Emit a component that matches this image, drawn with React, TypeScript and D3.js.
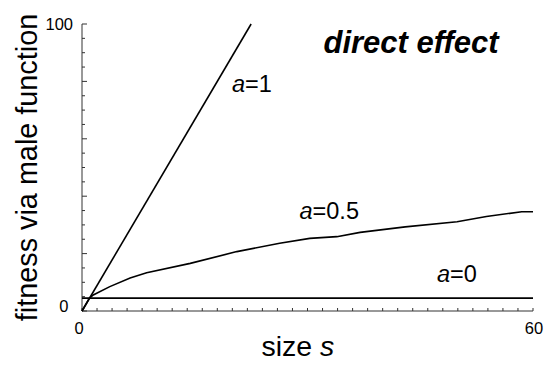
import React from "react";
import * as d3 from "d3";

// ---- data ----
const sizeA1 = [0, 22.5];
const fitA1 = [0, 100];

const sizeA05 = [0, 1, 1.5, 3.7, 6.4, 8.6, 14.4, 20.6, 26.3, 30.3, 33.9, 37, 43, 49.9, 53.8, 58.5, 60];
const fitA05 = [0, 4.5, 5.6, 8.5, 11.5, 13.3, 16.6, 20.7, 23.6, 25.3, 25.9, 27.4, 29.3, 31.1, 32.9, 34.6, 34.6];

const sizeA0 = [0, 60];
const fitA0 = [4.5, 4.5];

const xTickLabels = ["0", "60"];
const yTickLabels = ["0", "100"];

const W = 547;
const H = 365;

export default function App() {
  const x = d3.scaleLinear().domain([0, 60]).range([82, 533]);
  const y = d3.scaleLinear().domain([0, 100]).range([311, 24]);

  const line = d3
    .line<[number, number]>()
    .x((d) => x(d[0]))
    .y((d) => y(d[1]));

  const series = [
    { s: sizeA1, v: fitA1 },
    { s: sizeA05, v: fitA05 },
    { s: sizeA0, v: fitA0 },
  ];

  const yTicks = d3.range(0, 101, 5);
  const xTicks = d3.range(0, 61, 2);
  const font = "'Liberation Sans', Arial, Helvetica, sans-serif";

  return (
    <svg
      width={W}
      height={H}
      style={{ position: "absolute", left: 0, top: 0, background: "#fff" }}
      fontFamily={font}
    >
      <rect width={W} height={H} fill="#fff" />
      {/* axes */}
      <line x1={x(0)} x2={x(0)} y1={y(100)} y2={y(0)} stroke="#333" strokeWidth={1} />
      <line x1={x(0)} x2={x(60)} y1={y(0)} y2={y(0)} stroke="#333" strokeWidth={1} />
      {yTicks.map((t) => (
        <line
          key={"yt" + t}
          x1={x(0)}
          x2={x(0) + (t % 20 === 0 ? 5 : 3)}
          y1={y(t)}
          y2={y(t)}
          stroke="#333"
          strokeWidth={1}
        />
      ))}
      {xTicks.map((t) => (
        <line
          key={"xt" + t}
          x1={x(t)}
          x2={x(t)}
          y1={y(0)}
          y2={y(0) - 3}
          stroke="#333"
          strokeWidth={1}
        />
      ))}
      {/* tick labels */}
      <text x={68.5} y={y(0) + 0.5} fontSize={16.5} textAnchor="end">{yTickLabels[0]}</text>
      <text x={73} y={y(100) + 5.5} fontSize={16.5} textAnchor="end">{yTickLabels[1]}</text>
      <text x={x(0) - 3} y={334} fontSize={16.5} textAnchor="middle">{xTickLabels[0]}</text>
      <text x={x(60) + 1} y={334} fontSize={16.5} textAnchor="middle">{xTickLabels[1]}</text>

      {/* data lines */}
      {series.map((sr, i) => (
        <path
          key={"l" + i}
          d={line(sr.s.map((s, j) => [s, sr.v[j]] as [number, number])) || ""}
          fill="none"
          stroke="#000"
          strokeWidth={1.6}
        />
      ))}

      {/* line labels */}
      <text x={232} y={92} fontSize={23.5}>
        <tspan fontStyle="italic">a</tspan>=1
      </text>
      <text x={299.5} y={219} fontSize={23.5}>
        <tspan fontStyle="italic">a</tspan>=0.5
      </text>
      <text x={437} y={281.5} fontSize={23.5}>
        <tspan fontStyle="italic">a</tspan>=0
      </text>

      {/* title */}
      <text x={323.5} y={53.3} fontSize={31} fontWeight="bold" fontStyle="italic">
        direct effect
      </text>

      {/* axis titles */}
      <text x={261.5} y={355.5} fontSize={28.5}>
        size <tspan fontStyle="italic">s</tspan>
      </text>
      <text
        transform={`translate(37,167.5) rotate(-90)`}
        fontSize={28.8}
        textAnchor="middle"
      >
        fitness via male function
      </text>
    </svg>
  );
}
